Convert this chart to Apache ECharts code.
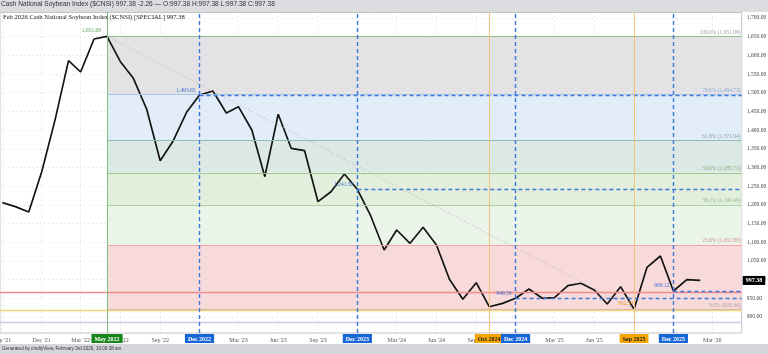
<!DOCTYPE html>
<html>
<head>
<meta charset="utf-8">
<title>Cash National Soybean Index ($CNSI)</title>
<script src="https://cdn.jsdelivr.net/npm/echarts@6/dist/echarts.min.js"></script>
<style>
  html, body { margin: 0; padding: 0; background: #fff; }
  #chart { width: 768px; height: 354px; }
</style>
</head>
<body>
<div id="chart"></div>
<script>
// monthly closes (first of month)
var months = [
  '2021-09', '2021-10', '2021-11', '2021-12',
  '2022-01', '2022-02', '2022-03', '2022-04', '2022-05', '2022-06',
  '2022-07', '2022-08', '2022-09', '2022-10', '2022-11', '2022-12',
  '2023-01', '2023-02', '2023-03', '2023-04', '2023-05', '2023-06',
  '2023-07', '2023-08', '2023-09', '2023-10', '2023-11', '2023-12',
  '2024-01', '2024-02', '2024-03', '2024-04', '2024-05', '2024-06',
  '2024-07', '2024-08', '2024-09', '2024-10', '2024-11', '2024-12',
  '2025-01', '2025-02', '2025-03', '2025-04', '2025-05', '2025-06',
  '2025-07', '2025-08', '2025-09', '2025-10', '2025-11', '2025-12',
  '2026-01', '2026-02'
]
var closes = [
  1205.6, 1195.0, 1180.7, 1288.6,
  1428.0, 1585.8, 1555.5, 1643.9, 1651.09, 1583.1,
  1538.6, 1455.1, 1318.0, 1370.8, 1447.6, 1493.65,
  1504.6, 1445.7, 1462.6, 1400.2, 1275.2, 1442.3,
  1351.2, 1344.8, 1208.3, 1235.0, 1282.4, 1241.5,
  1170.0, 1078.9, 1132.5, 1096.9, 1139.7, 1092.3,
  1000.5, 946.9, 991.4, 927.1, 936.0, 949.59,
  974.5, 949.6, 951.2, 983.4, 989.8, 971.8,
  934.4, 980.7, 920.34, 1032.6, 1062.9, 969.12,
  999.6, 997.38
]

// fibonacci retracement, May 2022 high to Sep 2025 low
var fibNames = ['100.0%', '78.6%', '61.8%', '50.0%', '38.2%', '23.6%', '0.0%']
var fibLevels = [1651.09, 1494.73, 1371.94, 1285.71, 1199.49, 1092.80, 920.34]
var fibFill = ['#e3e3e5', '#e2edf9', '#dbe8e4', '#e2efdc', '#ebf4e8', '#f8dadb']
var fibLine = ['#8cc08c', '#a9c6e6', '#8fbcb2', '#9cc990', '#acd3a4', '#f0a8a8', '#d9b8a0']
var fibText = ['#9a9a9a', '#8faad0', '#7ea8a0', '#86ae7c', '#98c08e', '#d09494', '#a8a0a0']

// dates marked on the x axis
var markMonths = ['2022-05', '2022-12', '2023-12', '2024-10', '2024-12', '2025-09', '2025-12']
var markNames = ['May 2022', 'Dec 2022', 'Dec 2023', 'Oct 2024', 'Dec 2024', 'Sep 2025', 'Dec 2025']
var markKinds = ['green', 'blue', 'blue', 'orange', 'blue', 'orange', 'blue']

// blue dashed levels taken from the marked dates
var levelMonths = ['2022-12', '2023-12', '2024-12', '2025-12']
var levelValues = [1493.65, 1241.5, 949.59, 969.12]
var levelLabels = ['1,493.65', '1,241.50', '949.59', '969.12']

// other horizontal studies (full width)
var studyValues = [965.5, 918.0, 884.3]
var studyColors = ['#f28b8b', '#f3d77e', '#cfc8e6']

// axis ticks
var quarterMonths = [
  '2021-09', '2021-12', '2022-03', '2022-06', '2022-09', '2022-12',
  '2023-03', '2023-06', '2023-09', '2023-12', '2024-03', '2024-06',
  '2024-09', '2024-12', '2025-03', '2025-06', '2025-09', '2025-12', '2026-03'
]
var yTicks = [900, 950, 1000, 1050, 1100, 1150, 1200, 1250, 1300, 1350, 1400,
  1450, 1500, 1550, 1600, 1650, 1700]

var lastClose = 997.38
var peakLabel = '1,651.09'
var lowLabel = '931.34'

var MON = ['Jan', 'Feb', 'Mar', 'Apr', 'May', 'Jun', 'Jul', 'Aug', 'Sep', 'Oct', 'Nov', 'Dec']
function ts(m) {
  var p = m.split('-')
  return Date.UTC(+p[0], +p[1] - 1, 1)
}
var xMin = Date.UTC(2021, 7, 26, 12)
var xMax = Date.UTC(2026, 4, 8)
var SERIF = 'Liberation Serif'

var lineData = months.map(function(m, i) { return [ts(m), closes[i]] })

// x labels: quarters that are not covered by a marked date box
var quarterTs = quarterMonths.map(ts)
var labelTs = quarterMonths.filter(function(m) { return markMonths.indexOf(m) < 0 }).map(ts)

var boxColors = { green: '#17861a', blue: '#1766d6', orange: '#f6a600' }
var vLineStyles = {
  green: { color: '#7cc27c', width: 1, type: 'solid' },
  blue: { color: '#3b78dc', width: 1.4, type: [4, 3] },
  orange: { color: '#f5c27a', width: 1, type: 'solid' }
}

var bandData = []
for (var i = 0; i < fibFill.length; i++) {
  bandData.push([
    { xAxis: ts('2022-05'), yAxis: fibLevels[i + 1], itemStyle: { color: fibFill[i] } },
    { xAxis: xMax, yAxis: fibLevels[i] }
  ])
}

var marks = []
// full width studies
studyValues.forEach(function(v, i) {
  marks.push([
    { xAxis: xMin, yAxis: v, lineStyle: { color: studyColors[i], width: 1.3, type: 'solid' }, label: { show: false } },
    { xAxis: xMax, yAxis: v }
  ])
})
// fib levels
fibLevels.forEach(function(v, i) {
  marks.push([
    {
      xAxis: ts('2022-05'), yAxis: v,
      lineStyle: { color: fibLine[i], width: 1, type: 'solid' },
      label: {
        show: true, position: 'insideEndTop', distance: 1,
        formatter: fibNames[i] + ' (' + v.toLocaleString('en-US', { minimumFractionDigits: 2 }) + ')',
        color: fibText[i], fontFamily: SERIF, fontSize: 5.5
      }
    },
    { xAxis: xMax, yAxis: v }
  ])
})
// trend line from high to low
marks.push([
  { xAxis: ts('2022-05'), yAxis: fibLevels[0], lineStyle: { color: '#b8b8b8', width: 1, type: [1, 2] }, label: { show: false } },
  { xAxis: ts('2025-09'), yAxis: fibLevels[6] }
])
// blue dashed levels
levelMonths.forEach(function(m, i) {
  marks.push([
    {
      xAxis: ts(m), yAxis: levelValues[i],
      lineStyle: { color: '#3b78dc', width: 1.4, type: [4, 3] },
      label: {
        show: true, position: 'start', distance: 4, offset: [0, -5],
        formatter: levelLabels[i], color: '#3b6fd4', fontFamily: SERIF, fontSize: 5.5
      }
    },
    { xAxis: xMax, yAxis: levelValues[i] }
  ])
})
// vertical date markers with boxes below the plot
markMonths.forEach(function(m, i) {
  var k = markKinds[i]
  marks.push({
    xAxis: ts(m),
    lineStyle: vLineStyles[k],
    label: {
      show: true, position: 'start', distance: 1,
      formatter: markNames[i],
      backgroundColor: boxColors[k],
      color: k === 'orange' ? '#1a1a1a' : '#fff',
      fontFamily: SERIF, fontSize: 6, fontWeight: 'bold',
      padding: [2, 3, 1, 3]
    }
  })
})
// price tag on the right axis
marks.push([
  {
    xAxis: ts('2026-02'), yAxis: lastClose,
    lineStyle: { color: 'rgba(0,0,0,0)', width: 1 },
    label: {
      show: true, position: 'end', distance: 1, formatter: String(lastClose),
      backgroundColor: '#000', color: '#fff', fontFamily: SERIF, fontSize: 6,
      fontWeight: 'bold', padding: [2, 3, 1, 3]
    }
  },
  { xAxis: xMax, yAxis: lastClose }
])

var chart = echarts.init(document.getElementById('chart'), null, { renderer: 'canvas' })

var option = {
  animation: false,
  backgroundColor: '#fff',
  graphic: [
    { type: 'rect', left: 0, top: 0, shape: { width: 768, height: 12 }, style: { fill: '#dcdde0' }, z: -1 },
    { type: 'rect', left: 0, top: 344, shape: { width: 768, height: 10 }, style: { fill: '#d5d6d9' }, z: -1 }
  ],
  title: [
    {
      text: 'Cash National Soybean Index ($CNSI) 997.38 -2.26 \u2014 O:997.38 H:997.38 L:997.38 C:997.38',
      left: 1, top: 1, padding: 0,
      textStyle: { fontFamily: 'Liberation Sans', fontSize: 6.6, fontWeight: 'normal', color: '#333' }
    },
    {
      text: 'Feb 2026 Cash National Soybean Index ($CNSI) [SPECIAL] 997.38',
      left: 3, top: 14, padding: 0,
      textStyle: { fontFamily: SERIF, fontSize: 6.6, fontWeight: 'normal', color: '#222' }
    },
    {
      text: 'Generated by cmdtyView, February 3rd 2026, 10:09:38 am',
      left: 2, top: 346.5, padding: 0,
      textStyle: { fontFamily: 'Liberation Sans', fontSize: 4.6, fontWeight: 'normal', color: '#333' }
    }
  ],
  grid: {
    left: 0, right: 26.3, top: 12.5, bottom: 21,
    outerBoundsMode: 'none',
    containLabel: false,
    show: true, borderColor: '#c4c4c4', borderWidth: 1, backgroundColor: 'transparent'
  },
  xAxis: {
    type: 'value',
    min: xMin,
    max: xMax,
    axisLine: { show: false },
    axisTick: { show: false, customValues: quarterTs },
    splitLine: { show: true, lineStyle: { color: '#dadada', type: [1, 3] } },
    axisLabel: {
      customValues: labelTs,
      margin: 4,
      fontFamily: SERIF,
      fontSize: 6,
      color: '#555',
      formatter: function(v) {
        var d = new Date(v)
        return MON[d.getUTCMonth()] + " '" + String(d.getUTCFullYear()).slice(2)
      }
    }
  },
  yAxis: {
    type: 'value',
    position: 'right',
    min: 856.7,
    max: 1714.8,
    axisLine: { show: false },
    axisTick: { show: false, customValues: yTicks },
    splitLine: { show: true, lineStyle: { color: '#dadada', type: [1, 3] } },
    axisLabel: {
      customValues: yTicks,
      margin: 5,
      fontFamily: SERIF,
      fontSize: 5.6,
      color: '#444',
      formatter: function(v) {
        return v.toLocaleString('en-US', { minimumFractionDigits: 2, maximumFractionDigits: 2 })
      }
    }
  },
  series: [
    {
      // fib bands
      type: 'line',
      data: [],
      silent: true,
      z: 1,
      markArea: { silent: true, data: bandData }
    },
    {
      // lines and labels
      type: 'line',
      data: [],
      silent: true,
      z: 2,
      markLine: { silent: true, symbol: ['none', 'none'], data: marks }
    },
    {
      name: '$CNSI',
      type: 'line',
      data: lineData,
      z: 3,
      showSymbol: false,
      symbol: 'none',
      lineStyle: { color: '#141414', width: 1.7 },
      markPoint: {
        silent: true,
        symbol: 'circle',
        symbolSize: 0,
        data: [
          {
            coord: [ts('2022-05'), fibLevels[0]],
            label: { show: true, position: 'left', distance: 6, offset: [0, -6], formatter: peakLabel, color: '#4d9a4d', fontFamily: SERIF, fontSize: 5.5 }
          },
          {
            coord: [ts('2025-09'), fibLevels[6]],
            label: { show: true, position: 'left', distance: 1, offset: [0, -6], formatter: lowLabel, color: '#e79a2a', fontFamily: SERIF, fontSize: 5.5 }
          }
        ]
      }
    }
  ]
}

chart.setOption(option)
</script>
</body>
</html>
